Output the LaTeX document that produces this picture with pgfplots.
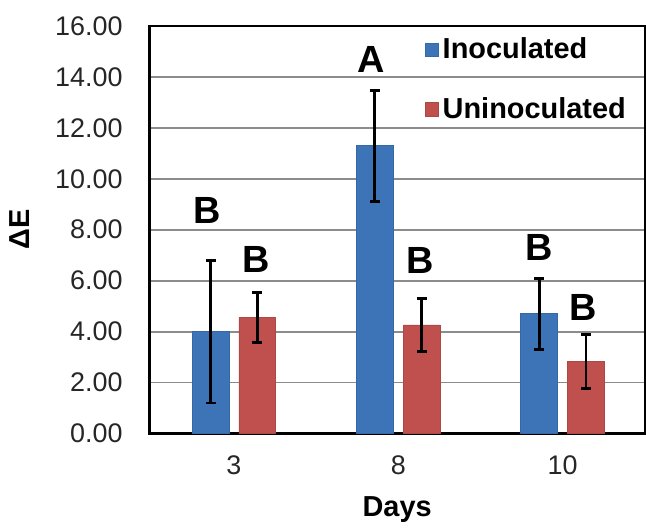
\documentclass[border=0pt]{standalone}
\usepackage{fontspec}
\setmainfont{Liberation Sans}
\usepackage{pgfplots}
\pgfplotsset{compat=1.18}
\definecolor{cblue}{HTML}{3D74B8}
\definecolor{cred}{HTML}{C0504D}
\pgfplotsset{sq legend/.style={legend image code/.code={\fill[##1] (0pt,-3.3pt) rectangle (6.6pt,3.3pt);}}}
\begin{document}
\begin{tikzpicture}
\begin{axis}[
  scale only axis, width=248.5pt, height=204.5pt,
  ybar=5pt, bar width=18.5pt,
  xmin=-0.514, xmax=2.5, ymin=0, ymax=16,
  xtick={0,1,2}, xticklabels={3,8,10},
  ytick={0,2,...,16},
  major tick length=0pt,
  ymajorgrids, grid style={gray!90, line width=0.9pt},
  axis line style={line width=1.2pt, black},
  yticklabel style={/pgf/number format/fixed, /pgf/number format/fixed zerofill,
    /pgf/number format/precision=2, /pgf/number format/assume math mode=true, xshift=-10pt},
  tick label style={font=\fontsize{13.5}{15}\selectfont, text=black!85},
  xticklabel style={yshift=-7.5pt},
  xlabel={\bfseries Days}, xlabel style={font=\fontsize{14.5}{16}\selectfont, yshift=-4pt},
  ylabel={\bfseries ΔE}, ylabel style={font=\fontsize{14.5}{16}\selectfont, yshift=6pt},
  legend style={draw=none, fill=none, font=\bfseries\fontsize{14.5}{16}\selectfont,
    at={(rel axis cs:0.555,0.982)}, anchor=north west, row sep=14pt, inner sep=0pt,
    legend cell align=left},
  clip=false,
]
\addplot[fill=cblue, draw=cblue!90!black, sq legend,
  error bars/.cd, y dir=both, y explicit,
  error bar style={line width=1.4pt, black},
  error mark options={rotate=90, mark size=2.5pt, line width=1.4pt, black}]
  coordinates {(0,4.00) +- (0,2.80) (1,11.29) +- (0,2.18) (2,4.70) +- (0,1.40)};
\addplot[fill=cred, draw=cred!90!black, sq legend,
  error bars/.cd, y dir=both, y explicit,
  error bar style={line width=1.4pt, black},
  error mark options={rotate=90, mark size=2.5pt, line width=1.4pt, black}]
  coordinates {(0,4.55) +- (0,0.99) (1,4.26) +- (0,1.03) (2,2.83) +- (0,1.05)};
\legend{Inoculated, Uninoculated}
\tikzset{lett/.style={font=\bfseries\fontsize{19}{20}\selectfont, inner sep=0pt}}
\node[lett] at (axis cs:-0.162,8.76) {B};
\node[lett] at (axis cs:0.135,6.85) {B};
\node[lett] at (axis cs:0.838,14.70) {A};
\node[lett] at (axis cs:1.133,6.80) {B};
\node[lett] at (axis cs:1.856,7.30) {B};
\node[lett] at (axis cs:2.128,4.93) {B};
\path (rel axis cs:0,0) ++(-75pt,-44.9pt) rectangle ++(323.5pt,262.4pt);
\end{axis}
\end{tikzpicture}
\end{document}
